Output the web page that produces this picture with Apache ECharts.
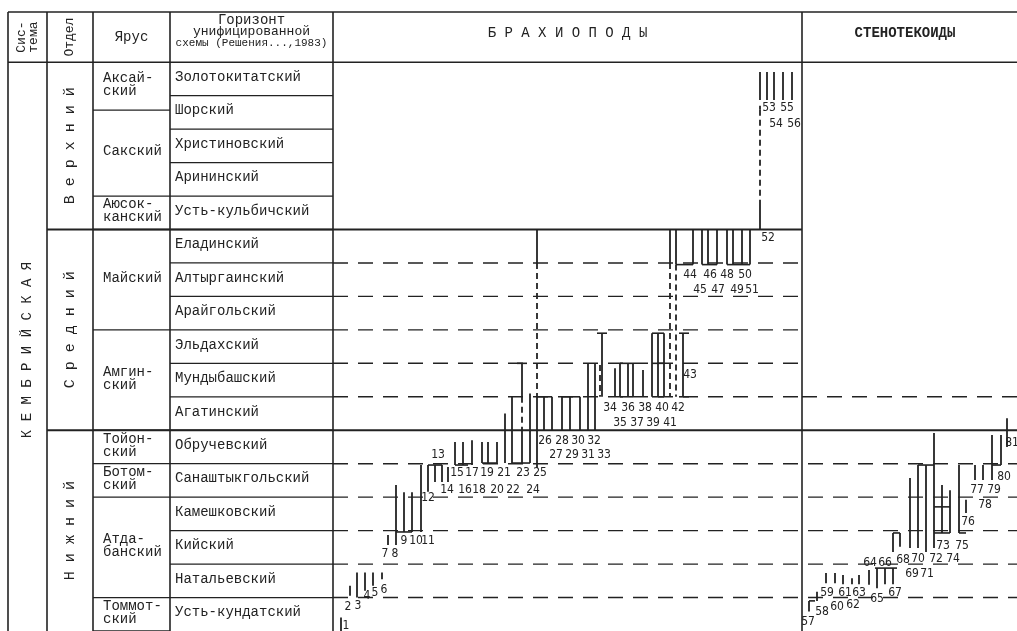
<!DOCTYPE html>
<html lang="ru">
<head>
<meta charset="UTF-8">
<title>Брахиоподы и стенотекоиды кембрия</title>
<script src="https://cdn.jsdelivr.net/npm/echarts@6/dist/echarts.min.js"></script>
<style>
    html, body {margin: 0; padding: 0; background: #fff;}
    #main {width: 1017px; height: 631px;}
</style>
</head>
<body>
<div id="main"></div>
<script>
// horizons of the unified scheme, top to bottom; horizon i spans [i, i+1] on the y axis
var horizons = ['Золотокитатский', 'Шорский', 'Христиновский', 'Арининский', 'Усть-кульбичский',
    'Еладинский', 'Алтыргаинский', 'Арайгольский', 'Эльдахский', 'Мундыбашский', 'Агатинский',
    'Обручевский', 'Санаштыкгольский', 'Камешковский', 'Кийский', 'Натальевский', 'Усть-кундатский'];
// stages (ярус): name, from, to (in horizon units)
var stages = [['Аксай-\nский', 0, 1.43], ['Сакский', 1.43, 4], ['Аюсок-\nканский', 4, 5],
    ['Майский', 5, 8], ['Амгин-\nский', 8, 11], ['Тойон-\nский', 11, 12], ['Ботом-\nский', 12, 13],
    ['Атда-\nбанский', 13, 16], ['Томмот-\nский', 16, 17]];
// series (отдел)
var divisions = [['В е р х н и й', 0, 5], ['С р е д н и й', 5, 11], ['Н и ж н и й', 11, 17]];

// brachiopod ranges: position, from, to
var brachRanges = [
    [341, 16.6, 17], [350, 15.65, 15.95], [357, 15.25, 16.0], [365, 15.25, 15.8], [373, 15.25, 15.65], [382, 15.25, 15.45],
    [388, 14.13, 14.43], [396, 12.64, 14.43], [404, 12.85, 14.04], [412, 12.85, 14.04], [421, 12.04, 14.04],
    [428, 12.04, 12.84], [435, 12.04, 12.55], [442, 12.04, 12.55], [448, 12.1, 12.55],
    [455, 11.35, 12.04], [463, 11.35, 12.04], [472, 11.3, 12.04], [482, 11.35, 11.98], [488, 11.35, 11.98], [497, 11.35, 11.98],
    [505, 10.5, 11.98], [512, 10.0, 11.98], [522, 9.0, 10.0], [522, 11.0, 11.98], [530, 9.9, 11.98],
    [537, 5.0, 6.0], [537, 10.0, 12.13], [544, 10.0, 11.0], [552, 10.0, 11.0], [562, 10.0, 11.0], [570, 10.0, 11.0], [580, 10.0, 11.0],
    [588, 9.0, 11.0], [595, 9.0, 11.0], [602, 8.1, 10.0],
    [615, 9.15, 10.0], [620, 9.0, 10.0], [628, 9.0, 10.0], [633, 9.0, 10.0], [643, 9.2, 10.0],
    [652, 8.1, 10.0], [658, 8.1, 10.0], [664, 8.1, 10.0],
    [670, 5.0, 6.0], [676, 5.0, 6.05], [683, 8.1, 10.0],
    [693, 5.0, 6.05], [702, 5.0, 6.05], [708, 5.0, 6.05], [717, 5.0, 6.05], [727, 5.0, 6.05], [733, 5.0, 6.05], [742, 5.0, 6.05], [750, 5.0, 6.05],
    [760, 4.12, 5.0], [760, 1.3, 1.42],
    [760, 0.29, 1.13], [767, 0.29, 1.13], [774, 0.29, 1.13], [783, 0.29, 1.13], [792, 0.29, 1.13]
];
// uncertain (dashed) parts of brachiopod ranges
var brachDashed = [[537, 6.0, 10.0], [522, 10.0, 11.0], [670, 6.0, 10.0], [676, 6.05, 10.0], [760, 1.42, 4.12], [600, 9.05, 10.0]];
// short horizontal ties between neighbouring ranges: from, to, level
var brachLinks = [[396, 412, 14.04], [428, 442, 12.04], [455, 468, 12.04], [482, 497, 11.98], [512, 530, 11.98], [517, 527, 9.0],
    [537, 552, 10.0], [562, 580, 10.0], [597, 607, 8.1], [620, 633, 9.0], [620, 633, 10.0], [652, 664, 8.1], [652, 664, 9.0],
    [652, 664, 10.0], [679, 689, 8.1], [679, 689, 10.0], [676, 693, 6.05], [702, 717, 6.05], [727, 750, 6.05]];
var brachLabels = [
    ['1', 346, 16.85], ['2', 348, 16.27], ['3', 358, 16.25], ['4', 367, 15.94], ['5', 375, 15.86], ['6', 384, 15.77],
    ['7', 385, 14.7], ['8', 395, 14.7], ['9', 404, 14.31], ['10', 416, 14.31], ['11', 428, 14.31], ['12', 428, 13.02],
    ['13', 438, 11.74], ['14', 447, 12.79], ['15', 457, 12.28], ['16', 465, 12.79], ['17', 472, 12.28], ['18', 479, 12.79],
    ['19', 487, 12.28], ['20', 497, 12.79], ['21', 504, 12.28], ['22', 513, 12.79], ['23', 523, 12.28], ['24', 533, 12.79],
    ['25', 540, 12.28], ['26', 545, 11.32], ['27', 556, 11.74], ['28', 562, 11.32], ['29', 572, 11.74], ['30', 578, 11.32],
    ['31', 588, 11.74], ['32', 594, 11.32], ['33', 604, 11.74], ['34', 610, 10.33], ['35', 620, 10.78], ['36', 628, 10.33],
    ['37', 637, 10.78], ['38', 645, 10.33], ['39', 653, 10.78], ['40', 662, 10.33], ['41', 670, 10.78], ['42', 678, 10.33],
    ['43', 690, 9.35], ['44', 690, 6.36], ['45', 700, 6.81], ['46', 710, 6.36], ['47', 718, 6.81], ['48', 727, 6.36],
    ['49', 737, 6.81], ['50', 745, 6.36], ['51', 752, 6.81], ['52', 768, 5.25], ['53', 769, 1.37], ['54', 776, 1.85],
    ['55', 787, 1.37], ['56', 794, 1.85]
];

// stenothecoid ranges
var stenRanges = [
    [809, 16.1, 16.42], [817, 15.83, 16.1], [826, 15.27, 15.57], [835, 15.27, 15.57], [843, 15.33, 15.6], [852, 15.42, 15.6],
    [859, 15.33, 15.6], [869, 15.18, 15.62], [877, 15.12, 15.72], [885, 15.12, 15.6], [893, 15.12, 15.6],
    [893, 14.07, 14.64], [900, 14.07, 14.48],
    [910, 12.43, 14.52], [918, 12.04, 14.52], [926, 12.04, 14.64], [934, 11.08, 14.52], [942, 12.64, 14.07], [950, 12.79, 14.07],
    [959, 12.04, 14.07], [966, 13.08, 13.47], [975, 12.04, 12.49], [983, 12.04, 12.49], [992, 11.14, 12.49], [1001, 11.14, 12.04],
    [1007, 10.64, 11.5]
];
var stenLinks = [[809, 815, 16.1], [875, 897, 15.12], [893, 900, 14.07], [918, 934, 12.04], [934, 950, 13.29], [934, 950, 14.07],
    [959, 966, 14.07], [992, 1001, 12.04]];
var stenLabels = [
    ['57', 808, 16.73], ['58', 822, 16.43], ['59', 827, 15.86], ['60', 837, 16.28], ['61', 845, 15.86], ['62', 853, 16.22],
    ['63', 859, 15.86], ['64', 870, 14.97], ['65', 877, 16.04], ['66', 885, 14.97], ['67', 895, 15.86], ['68', 903, 14.87],
    ['69', 912, 15.3], ['70', 918, 14.85], ['71', 927, 15.3], ['72', 936, 14.85], ['73', 943, 14.46], ['74', 953, 14.85],
    ['75', 962, 14.46], ['76', 968, 13.74], ['77', 977, 12.78], ['78', 985, 13.23], ['79', 994, 12.78], ['80', 1004, 12.4],
    ['81', 1012, 11.38]
];

// ---- layout of the table (column edges on the x axis) ----
var col = {sys: [8, 47], div: [47, 93], stage: [93, 170], hor: [170, 333], brach: [333, 802], sten: [802, 1017]};
var ink = '#222';
var mono = "'Liberation Mono', 'DejaVu Sans Mono', monospace";
var narrow = "'DejaVu Sans Condensed', 'Liberation Sans Narrow', 'DejaVu Sans', sans-serif";

// table rules: x1, y1, x2, y2, width, dashed
var rules = [];
[col.sys[0], col.div[0], col.stage[0], col.hor[0], col.brach[0], col.sten[0]].forEach(function (x) {
    rules.push([x, -1.5, x, 17, 1.6, 0]);
});
rules.push([col.sys[0], -1.5, col.sten[1], -1.5, 1.6, 0]);
rules.push([col.sys[0], 0, col.sten[1], 0, 1.6, 0]);
for (var i = 1; i < horizons.length; i++) {
    rules.push([col.hor[0], i, col.hor[1], i, 1.3, 0]);
    if (i >= 6 && i <= 10) rules.push([col.brach[0], i, col.brach[1], i, 1.4, 1]);
    if (i >= 12) rules.push([col.brach[0], i, col.sten[1], i, 1.4, 1]);
}
rules.push([col.sten[0], 10, col.sten[1], 10, 1.4, 1]);
stages.forEach(function (s) {
    rules.push([col.stage[0], s[2], col.stage[1], s[2], 1.3, 0]);
});
rules.push([col.div[0], 5, col.brach[1], 5, 2, 0]);
rules.push([col.div[0], 11, col.sten[1], 11, 2, 0]);

// every text of the table
var texts = [];
function addText(t, x, y, size, opts) {
    opts = opts || {};
    texts.push({t: t, x: x, y: y, size: size, rot: opts.rot || 0, align: opts.align || 'center',
        weight: opts.weight || 'normal', family: opts.family || mono, lh: opts.lh || 13});
}
addText('Сис-\nтема', (col.sys[0] + col.sys[1]) / 2, -0.75, 13, {rot: 90, lh: 12});
addText('Отдел', (col.div[0] + col.div[1]) / 2, -0.75, 13, {rot: 90});
addText('Ярус', (col.stage[0] + col.stage[1]) / 2, -0.75, 14);
addText('Горизонт', (col.hor[0] + col.hor[1]) / 2, -1.26, 14);
addText('унифицированной', (col.hor[0] + col.hor[1]) / 2, -0.93, 13);
addText('схемы (Решения...,1983)', (col.hor[0] + col.hor[1]) / 2, -0.57, 11);
addText('Б Р А Х И О П О Д Ы', (col.brach[0] + col.brach[1]) / 2, -0.85, 14);
addText('СТЕНОТЕКОИДЫ', 905, -0.85, 14, {weight: 'bold'});
addText('К Е М Б Р И Й С К А Я', (col.sys[0] + col.sys[1]) / 2, 8.6, 14, {rot: 90});
divisions.forEach(function (d) {
    addText(d[0], (col.div[0] + col.div[1]) / 2, (d[1] + d[2]) / 2, 15, {rot: 90});
});
stages.forEach(function (s) {
    addText(s[0], col.stage[0] + 10, (s[1] + s[2]) / 2 - 0.05, 14, {align: 'left'});
});
horizons.forEach(function (h, k) {
    addText(h, col.hor[0] + 5, k + 0.45, 14, {align: 'left'});
});
var numLabels = brachLabels.concat(stenLabels);

function seg(api, x1, y1, x2, y2, w, dashed) {
    var a = api.coord([x1, y1]), b = api.coord([x2, y2]);
    return {
        type: 'line',
        shape: {x1: a[0], y1: a[1], x2: b[0], y2: b[1]},
        style: {stroke: ink, lineWidth: w, lineDash: dashed || null}
    };
}

var myChart = echarts.init(document.getElementById('main'));
myChart.setOption({
    animation: false,
    backgroundColor: '#fff',
    grid: {left: 0, right: 0, top: 12, bottom: 0},
    xAxis: {type: 'value', min: 0, max: 1017, show: false},
    yAxis: {type: 'value', min: -1.5, max: 17, inverse: true, show: false},
    series: [
        {
            type: 'custom', silent: true, clip: false,
            data: rules,
            renderItem: function (params, api) {
                var r = rules[params.dataIndex];
                return seg(api, r[0], r[1], r[2], r[3], r[4], r[5] ? [15, 10] : null);
            }
        },
        {
            type: 'custom', silent: true, clip: false,
            data: brachRanges.concat(stenRanges),
            renderItem: function (params, api) {
                return seg(api, api.value(0), api.value(1), api.value(0), api.value(2), 1.8);
            }
        },
        {
            type: 'custom', silent: true, clip: false,
            data: brachDashed,
            renderItem: function (params, api) {
                return seg(api, api.value(0), api.value(1), api.value(0), api.value(2), 1.8, [6, 4]);
            }
        },
        {
            type: 'custom', silent: true, clip: false,
            data: brachLinks.concat(stenLinks),
            renderItem: function (params, api) {
                return seg(api, api.value(0), api.value(2), api.value(1), api.value(2), 1.6);
            }
        },
        {
            type: 'custom', silent: true, clip: false,
            data: texts.map(function (t) { return [t.x, t.y]; }),
            renderItem: function (params, api) {
                var t = texts[params.dataIndex];
                var p = api.coord([t.x, t.y]);
                return {
                    type: 'text', x: p[0], y: p[1], rotation: t.rot * Math.PI / 180,
                    style: {text: t.t, fill: ink, fontSize: t.size, fontFamily: t.family, fontWeight: t.weight,
                        align: t.align, verticalAlign: 'middle', lineHeight: t.lh}
                };
            }
        },
        {
            type: 'custom', silent: true, clip: false,
            data: numLabels.map(function (l) { return [l[1], l[2]]; }),
            renderItem: function (params, api) {
                var l = numLabels[params.dataIndex];
                var p = api.coord([l[1], l[2]]);
                return {
                    type: 'text', x: p[0], y: p[1],
                    style: {text: l[0], fill: ink, fontSize: 12, fontFamily: narrow,
                        align: 'center', verticalAlign: 'middle'}
                };
            }
        }
    ]
});
</script>
</body>
</html>
